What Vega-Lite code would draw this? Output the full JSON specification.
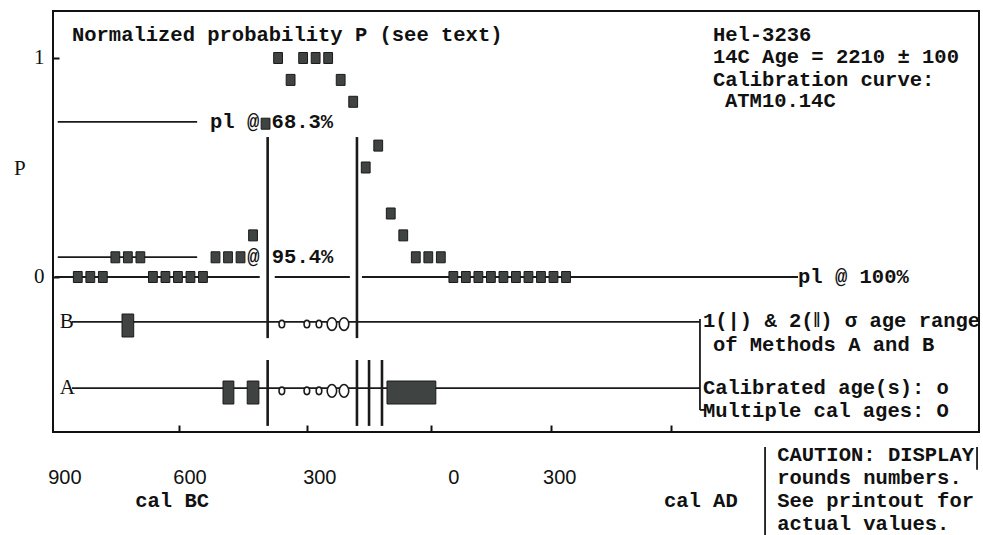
{
  "$schema": "https://vega.github.io/schema/vega-lite/v6.json",
  "width": 926,
  "height": 421,
  "autosize": {"type": "none"},
  "padding": {"left": 53, "top": 11, "right": 4, "bottom": 103},
  "background": "white",
  "config": {
    "view": {"stroke": "#111", "strokeWidth": 2},
    "text": {"font": "Liberation Mono", "fontWeight": "bold", "fontSize": 20.5, "color": "#111"}
  },
  "datasets": {
    "samples": [
      {"x": -850, "P": 0}, {"x": -820, "P": 0}, {"x": -790, "P": 0},
      {"x": -760, "P": 0.09}, {"x": -730, "P": 0.09}, {"x": -700, "P": 0.09},
      {"x": -670, "P": 0}, {"x": -640, "P": 0}, {"x": -610, "P": 0}, {"x": -580, "P": 0}, {"x": -550, "P": 0},
      {"x": -520, "P": 0.09}, {"x": -490, "P": 0.09}, {"x": -460, "P": 0.09},
      {"x": -430, "P": 0.19}, {"x": -400, "P": 0.7}, {"x": -370, "P": 1}, {"x": -340, "P": 0.9},
      {"x": -310, "P": 1}, {"x": -280, "P": 1}, {"x": -250, "P": 1}, {"x": -220, "P": 0.9},
      {"x": -190, "P": 0.8}, {"x": -160, "P": 0.5}, {"x": -130, "P": 0.6}, {"x": -100, "P": 0.29},
      {"x": -70, "P": 0.19}, {"x": -40, "P": 0.09}, {"x": -10, "P": 0.09}, {"x": 20, "P": 0.09},
      {"x": 50, "P": 0}, {"x": 80, "P": 0}, {"x": 110, "P": 0}, {"x": 140, "P": 0}, {"x": 170, "P": 0},
      {"x": 200, "P": 0}, {"x": 230, "P": 0}, {"x": 260, "P": 0}, {"x": 290, "P": 0}, {"x": 320, "P": 0}
    ],
    "thin": [
      {"x": -898, "x2": -564, "P": 0.708, "P2": 0.708},
      {"x": -898, "x2": -564, "P": 0.091, "P2": 0.091},
      {"x": -905, "x2": -414, "P": 0, "P2": 0},
      {"x": -378, "x2": -198, "P": 0, "P2": 0},
      {"x": -169, "x2": 876, "P": 0, "P2": 0},
      {"x": -864, "x2": 641, "P": -0.205, "P2": -0.205},
      {"x": -864, "x2": 641, "P": -0.507, "P2": -0.507},
      {"x": 641, "x2": 641, "P": -0.192, "P2": -0.607},
      {"x": 641, "x2": 656, "P": -0.607, "P2": -0.607},
      {"x": 797, "x2": 797, "P": -0.776, "P2": -1.178},
      {"x": 1305, "x2": 1305, "P": -0.776, "P2": -0.88}
    ],
    "thick": [
      {"x": -395, "x2": -395, "P": 0.639, "P2": -0.279},
      {"x": -181, "x2": -181, "P": 0.639, "P2": -0.279},
      {"x": -395, "x2": -395, "P": -0.379, "P2": -0.68},
      {"x": -181, "x2": -181, "P": -0.379, "P2": -0.68},
      {"x": -152, "x2": -152, "P": -0.379, "P2": -0.68},
      {"x": -121, "x2": -121, "P": -0.379, "P2": -0.68}
    ],
    "rects": [
      {"x": -744, "x2": -716, "P": -0.169, "P2": -0.274},
      {"x": -502, "x2": -476, "P": -0.475, "P2": -0.58},
      {"x": -444, "x2": -416, "P": -0.475, "P2": -0.58},
      {"x": -109, "x2": 8, "P": -0.475, "P2": -0.58}
    ],
    "ages": [
      {"x": -361, "P": -0.215, "kind": "single"}, {"x": -301, "P": -0.215, "kind": "single"},
      {"x": -272, "P": -0.215, "kind": "single"}, {"x": -241, "P": -0.215, "kind": "multiple"},
      {"x": -212, "P": -0.215, "kind": "multiple"},
      {"x": -361, "P": -0.52, "kind": "single"}, {"x": -301, "P": -0.52, "kind": "single"},
      {"x": -272, "P": -0.52, "kind": "single"}, {"x": -241, "P": -0.52, "kind": "multiple"},
      {"x": -212, "P": -0.52, "kind": "multiple"}
    ],
    "boldtext": [
      {"x": -864, "P": 1.105, "label": "Normalized probability P (see text)"},
      {"x": 672, "P": 1.105, "label": "Hel-3236"},
      {"x": 672, "P": 1.005, "label": "14C Age = 2210 ± 100"},
      {"x": 672, "P": 0.9, "label": "Calibration curve:"},
      {"x": 701, "P": 0.804, "label": "ATM10.14C"},
      {"x": -533, "P": 0.708, "label": "pl @ 68.3%"},
      {"x": -444, "P": 0.091, "label": "@ 95.4%"},
      {"x": 876, "P": 0, "label": "pl @ 100%"},
      {"x": 648, "P": -0.2, "label": "1(|) & 2(‖) σ age range"},
      {"x": 672, "P": -0.31, "label": "of Methods A and B"},
      {"x": 648, "P": -0.507, "label": "Calibrated age(s): o"},
      {"x": 648, "P": -0.612, "label": "Multiple cal ages: O"},
      {"x": 826, "P": -0.813, "label": "CAUTION: DISPLAY"},
      {"x": 826, "P": -0.918, "label": "rounds numbers."},
      {"x": 826, "P": -1.023, "label": "See printout for"},
      {"x": 826, "P": -1.128, "label": "actual values."}
    ],
    "ticklabels": [
      {"x": -881, "P": -0.918, "label": "900"},
      {"x": -581, "P": -0.918, "label": "600"},
      {"x": -270, "P": -0.918, "label": "300"},
      {"x": 51, "P": -0.918, "label": "0"},
      {"x": 305, "P": -0.918, "label": "300"}
    ],
    "eras": [
      {"x": -624, "P": -1.023, "label": "cal BC"},
      {"x": 643, "P": -1.023, "label": "cal AD"}
    ],
    "serif": [
      {"x": -893, "P": -0.205, "label": "B"},
      {"x": -893, "P": -0.507, "label": "A"},
      {"x": -1003, "P": 0.495, "label": "P"}
    ]
  },
  "encoding": {
    "x": {
      "field": "x", "type": "quantitative",
      "scale": {"domain": [-909.4, 1309.7], "nice": false, "zero": false},
      "axis": {"values": [-608, -301, -4, 284, 572], "labels": false, "domain": false, "grid": false,
               "tickSize": -7, "tickWidth": 2, "tickColor": "#111", "title": null}
    },
    "y": {
      "field": "P", "type": "quantitative",
      "scale": {"domain": [-0.7078, 1.2146], "nice": false, "zero": false},
      "axis": {"values": [0, 1], "domain": false, "grid": false, "tickSize": -6, "tickWidth": 2,
               "tickColor": "#111", "labelFont": "Liberation Serif", "labelFontSize": 21,
               "labelColor": "#111", "labelPadding": 15, "title": null}
    }
  },
  "layer": [
    {
      "data": {"name": "thin"},
      "mark": {"type": "rule", "color": "#1a1a1a", "strokeWidth": 1.8},
      "encoding": {"x2": {"field": "x2"}, "y2": {"field": "P2"}}
    },
    {
      "data": {"name": "thick"},
      "mark": {"type": "rule", "color": "#1a1a1a", "strokeWidth": 2.6},
      "encoding": {"x2": {"field": "x2"}, "y2": {"field": "P2"}}
    },
    {
      "data": {"name": "rects"},
      "mark": {"type": "rect", "fill": "#3f4443", "stroke": "#1a1a1a", "strokeWidth": 1},
      "encoding": {"x2": {"field": "x2"}, "y2": {"field": "P2"}}
    },
    {
      "data": {"name": "ages"},
      "transform": [{"filter": "datum.kind == 'single'"}],
      "mark": {"type": "point", "shape": "M0,-1A0.75,1 0 1,1 0,1A0.75,1 0 1,1 0,-1Z", "size": 56,
               "filled": true, "fill": "white", "stroke": "#1a1a1a", "strokeWidth": 1.6, "opacity": 1}
    },
    {
      "data": {"name": "ages"},
      "transform": [{"filter": "datum.kind == 'multiple'"}],
      "mark": {"type": "point", "shape": "M0,-1A0.75,1 0 1,1 0,1A0.75,1 0 1,1 0,-1Z", "size": 160,
               "filled": true, "fill": "white", "stroke": "#1a1a1a", "strokeWidth": 1.6, "opacity": 1}
    },
    {
      "data": {"name": "boldtext"},
      "mark": {"type": "text", "align": "left", "baseline": "middle"},
      "encoding": {"text": {"field": "label"}}
    },
    {
      "data": {"name": "ticklabels"},
      "mark": {"type": "text", "align": "center", "baseline": "middle", "font": "Liberation Sans",
               "fontWeight": "normal", "fontSize": 20},
      "encoding": {"text": {"field": "label"}}
    },
    {
      "data": {"name": "eras"},
      "mark": {"type": "text", "align": "center", "baseline": "middle"},
      "encoding": {"text": {"field": "label"}}
    },
    {
      "data": {"name": "serif"},
      "mark": {"type": "text", "align": "left", "baseline": "middle", "font": "Liberation Serif",
               "fontWeight": "normal", "fontSize": 21},
      "encoding": {"text": {"field": "label"}}
    },
    {
      "data": {"name": "samples"},
      "mark": {"type": "point", "shape": "M-0.8,-1H0.8V1H-0.8Z", "size": 121, "filled": true,
               "fill": "#3f4443", "stroke": "#1a1a1a", "strokeWidth": 1, "opacity": 1}
    }
  ]
}
